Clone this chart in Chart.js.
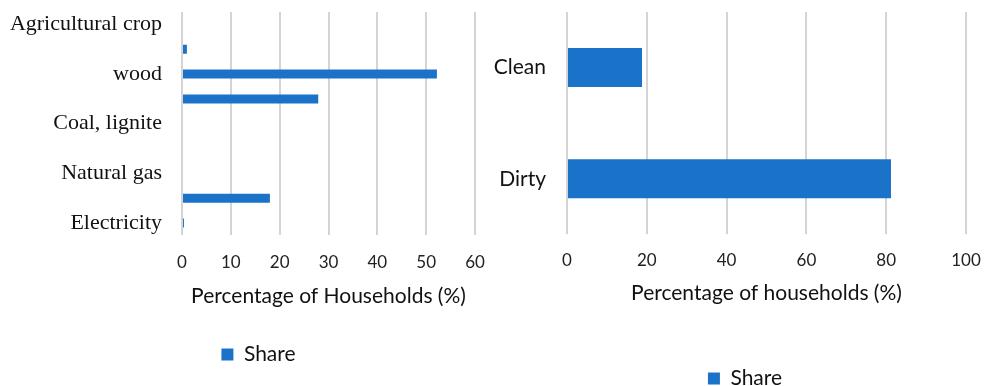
<!DOCTYPE html>
<html>
<head>
<meta charset="utf-8">
<script src="https://cdn.jsdelivr.net/npm/chart.js@4/dist/chart.umd.min.js"></script>
<style>
  body { margin: 0; background: #fff; }
  #wrap { position: relative; width: 986px; height: 386px; overflow: hidden; }
  canvas { position: absolute; top: 0; }
</style>
</head>
<body>
<div id="wrap">
  <canvas id="fuelChart" width="490" height="386" style="left:0"></canvas>
  <canvas id="typeChart" width="496" height="399" style="left:490px"></canvas>
</div>
<script>
// left chart: fuel used by households (top row first); unlabeled rows were skipped labels in the original
const fuelCategories = ['Agricultural crop', '', 'wood', '', 'Coal, lignite', '', 'Natural gas', '', 'Electricity'];
const fuelShare = [0, 1.0, 52.2, 27.9, 0, 0, 0, 18.0, 0.4];
const fuelTicks = [0, 10, 20, 30, 40, 50, 60];

// right chart: clean vs dirty
const typeCategories = ['Clean', 'Dirty'];
const typeShare = [18.8, 81.2];
const typeTicks = [0, 20, 40, 60, 80, 100];

const seriesName = 'Share';
const blue = '#1a73c8';
const gridColor = '#d4d4d4';
const sans = 'Lato, "Open Sans", sans-serif';

// the legend in the original sits a bit right of the canvas centre
const legendShift = {
  id: 'legendShift',
  afterLayout(chart, args, o) {
    chart.legend.left += o.dx;
    chart.legend.right += o.dx;
  }
};

function makeChart(id, cats, vals, ticks, opts) {
  return new Chart(document.getElementById(id), {
    type: 'bar',
    data: {
      labels: cats,
      datasets: [{
        label: seriesName,
        data: vals,
        backgroundColor: blue,
        borderWidth: 0,
        inflateAmount: 0,
        barThickness: opts.thick
      }]
    },
    plugins: [legendShift],
    options: {
      indexAxis: 'y',
      responsive: false,
      animation: false,
      devicePixelRatio: 1,
      layout: { padding: opts.pad },
      plugins: {
        tooltip: { enabled: false },
        legendShift: { dx: opts.legendDx },
        legend: {
          position: 'bottom',
          labels: {
            boxWidth: 12, boxHeight: 12, padding: 1,
            color: '#111',
            font: { family: sans, size: 21 }
          }
        }
      },
      scales: {
        x: {
          min: ticks[0],
          max: ticks[ticks.length - 1],
          afterBuildTicks: ax => { ax.ticks = ticks.map(v => ({ value: v })); },
          afterFit: ax => { ax.paddingLeft = 0; ax.paddingRight = 0; },
          grid: { color: gridColor, lineWidth: 2, drawTicks: false },
          border: { display: false },
          ticks: { padding: opts.tickPad, color: '#222', font: { family: sans, size: 17 } },
          title: {
            display: true,
            text: opts.title,
            color: '#111',
            font: { family: sans, size: 21 },
            padding: { top: opts.titleTop, bottom: opts.titleBottom }
          }
        },
        y: {
          afterFit: ax => { ax.paddingTop = 0; ax.paddingBottom = 0; ax.width = opts.axisWidth; },
          grid: { display: false, drawTicks: false },
          border: { display: false },
          ticks: {
            autoSkip: false,
            padding: opts.labelPad,
            color: '#111',
            font: opts.labelFont
          }
        }
      }
    }
  });
}

makeChart('fuelChart', fuelCategories, fuelShare, fuelTicks, {
  thick: 9,
  pad: { top: 12, left: 0, right: 15, bottom: 11 },
  axisWidth: 182,
  legendDx: 21,
  tickPad: 17,
  title: 'Percentage of Households (%)',
  titleTop: -6,
  titleBottom: 34,
  labelPad: 20,
  labelFont: { family: '"Liberation Serif", "Times New Roman", serif', size: 22 }
});

makeChart('typeChart', typeCategories, typeShare, typeTicks, {
  thick: 39,
  pad: { top: 12, left: 0, right: 20, bottom: 0 },
  axisWidth: 77,
  legendDx: 17,
  tickPad: 16,
  title: 'Percentage of households (%)',
  titleTop: -6,
  titleBottom: 61,
  labelPad: 21,
  labelFont: { family: sans, size: 21 }
});
</script>
</body>
</html>
